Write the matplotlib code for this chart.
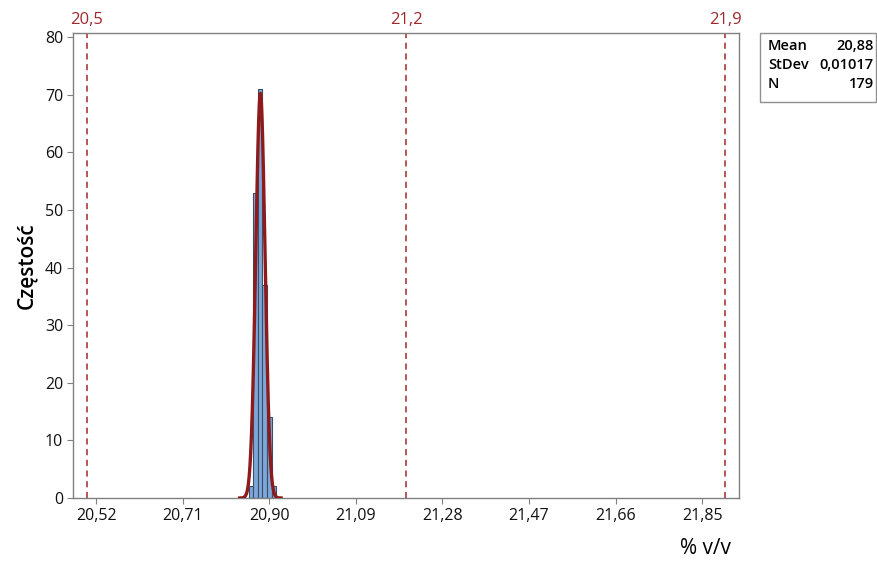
import numpy as np
import matplotlib
matplotlib.use("Agg")
import matplotlib.pyplot as plt

plt.rcParams['font.family'] = ['Open Sans', 'DejaVu Sans']

# Data
bin_centers = [20.86, 20.87, 20.88, 20.89, 20.90, 20.91]
counts = [2, 53, 71, 37, 14, 2]
bin_width = 0.01
mean_val = 20.8805
std_val = 0.01017
n_val = 179
ref_lines = [20.5, 21.2, 21.9]
ref_labels = ["20,5", "21,2", "21,9"]
xticks = [20.52, 20.71, 20.90, 21.09, 21.28, 21.47, 21.66, 21.85]
xtick_labels = ["20,52", "20,71", "20,90", "21,09", "21,28", "21,47", "21,66", "21,85"]
yticks = [0, 10, 20, 30, 40, 50, 60, 70, 80]
stats_labels = ["Mean", "StDev", "N"]
stats_values = ["20,88", "0,01017", "179"]

fig = plt.figure(figsize=(8.78, 5.61), dpi=100)
ax = fig.add_axes([73/878, 1-498/561, (739-73)/878, (498-33)/561])

ax.bar(bin_centers, counts, width=bin_width, color='#7DA7D9', edgecolor='#3C4E66',
       linewidth=0.8, zorder=2)

xs = np.linspace(20.835, 20.926, 400)
pdf = n_val * bin_width / (std_val * np.sqrt(2*np.pi)) * np.exp(-0.5*((xs-mean_val)/std_val)**2)
ax.plot(xs, pdf, color='#8E1B1B', linewidth=2.4, zorder=3)

red = '#A0282B'
for v, lab in zip(ref_lines, ref_labels):
    ax.axvline(v, color=red, linestyle=(0, (4, 3)), linewidth=1.1, zorder=1)
    ax.text(v, 1.01, lab, transform=ax.get_xaxis_transform(), ha='center', va='bottom',
            color=red, fontsize=12)

ax.set_xlim(20.4693, 21.9307)
ax.set_ylim(0, 80.7)
ax.set_xticks(xticks)
ax.set_xticklabels(xtick_labels, fontsize=11.5)
ax.set_yticks(yticks)
ax.set_yticklabels([str(v) for v in yticks], fontsize=11.5)
ax.tick_params(axis='both', direction='out', length=4, color='#808080', pad=3,
               labelcolor='#111111')
for s in ax.spines.values():
    s.set_color('#808080')
    s.set_linewidth(1.0)

ax.set_ylabel("Częstość", fontsize=15, fontweight='semibold', labelpad=6)
fig.text(705/878, 1-548/561, "% v/v", fontsize=15, ha='center', va='center')

# stats box
box = plt.Rectangle((760/878, 1-102/561), (876-760)/878, (102-33)/561,
                    transform=fig.transFigure, fill=False, edgecolor='#909090', linewidth=1.0)
fig.add_artist(box)
for i, (l, v) in enumerate(zip(stats_labels, stats_values)):
    y = 1 - (46 + i*19)/561
    fig.text(768/878, y, l, fontsize=10.5, fontweight='semibold', ha='left', va='center')
    fig.text(874/878, y, v, fontsize=10.5, fontweight='semibold', ha='right', va='center')

fig.savefig("out.png", dpi=100)
